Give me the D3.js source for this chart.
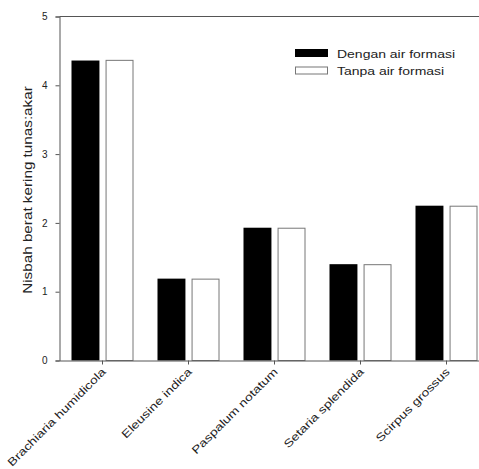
<!DOCTYPE html>
<html>
<head>
<meta charset="utf-8">
<script src="https://cdn.jsdelivr.net/npm/d3@7"></script>
<style>
  html, body { margin: 0; padding: 0; background: #fff; }
  svg { display: block; }
  text { font-family: "Liberation Sans", Arial, sans-serif; fill: #222; }
</style>
</head>
<body>
<svg id="chart" width="479" height="469"></svg>
<script>
// Species on the x axis
const species = [
  "Brachiaria humidicola",
  "Eleusine indica",
  "Paspalum notatum",
  "Setaria splendida",
  "Scirpus grossus"
];
// Shoot:root dry weight ratio per treatment
const withFormationWater = [4.36, 1.19, 1.93, 1.40, 2.25];
const withoutFormationWater = [4.37, 1.19, 1.93, 1.40, 2.25];
const seriesNames = ["Dengan air formasi", "Tanpa air formasi"];
const yTicks = [0, 1, 2, 3, 4, 5];
const yTitle = "Nisbah berat kering tunas:akar";

const svg = d3.select("#chart");
const plotLeft = 59.5, plotTop = 16.5, plotBottom = 360.5, plotRight = 489.5;
const stretch = 1.27; // the labels use a wide letterform

const x = d3.scaleBand().domain(species).range([plotLeft, plotRight])
  .paddingInner(0.279).paddingOuter(0.1395);
const xs = d3.scaleBand().domain(seriesNames).range([0, x.bandwidth()])
  .paddingInner(0.18);
const y = d3.scaleLinear().domain([0, 5]).range([plotBottom, plotTop]);

const rows = species.map((s, i) => ({
  s, vals: [withFormationWater[i], withoutFormationWater[i]]
}));

// bars
const g = svg.append("g");
rows.forEach(r => {
  r.vals.forEach((v, j) => {
    g.append("rect")
      .attr("x", x(r.s) + xs(seriesNames[j]) + (j ? 0.5 : 0))
      .attr("y", y(v) + (j ? 0.5 : 0))
      .attr("width", xs.bandwidth() - (j ? 1 : 0))
      .attr("height", y(0) - y(v) - (j ? 0.5 : 0))
      .attr("fill", j ? "#fff" : "#000")
      .attr("stroke", j ? "#777" : "none")
      .attr("stroke-width", 1);
  });
});

function widen(sel) {
  sel.each(function() {
    const n = this.getComputedTextLength();
    d3.select(this).attr("textLength", n * stretch).attr("lengthAdjust", "spacingAndGlyphs");
  });
}

// frame: top line
svg.append("line")
  .attr("x1", plotLeft).attr("x2", 479).attr("y1", plotTop).attr("y2", plotTop)
  .attr("stroke", "#555");

// y axis
const yAxis = svg.append("g")
  .attr("transform", `translate(${plotLeft},0)`)
  .call(d3.axisLeft(y).tickValues(yTicks).tickSize(4).tickPadding(8).tickFormat(d3.format("d")));
yAxis.select(".domain").attr("stroke", "#555");
yAxis.selectAll(".tick line").attr("stroke", "#555");
yAxis.selectAll("text").style("font-size", "10px").attr("fill", "#222")
  .style("font-family", "'Liberation Sans', Arial, sans-serif");

// x axis
const xAxis = svg.append("g")
  .attr("transform", `translate(0,${plotBottom})`)
  .call(d3.axisBottom(x).tickSize(4).tickSizeOuter(0));
xAxis.select(".domain").attr("stroke", "#555");
xAxis.selectAll(".tick line").attr("stroke", "#555");
xAxis.selectAll("text")
  .style("font-size", "11px").attr("fill", "#222")
  .style("font-family", "'Liberation Sans', Arial, sans-serif")
  .attr("text-anchor", "end")
  .attr("dy", null).attr("y", null)
  .attr("transform", "translate(4,12) rotate(-45)")
  .call(widen);

// y title
svg.append("text")
  .attr("transform", `translate(32,190) rotate(-90)`)
  .attr("text-anchor", "middle")
  .style("font-size", "12px")
  .text(yTitle)
  .call(widen);

// legend
const leg = svg.append("g");
seriesNames.forEach((name, j) => {
  const ly = 49.5 + j * 17.5;
  leg.append("rect")
    .attr("x", 295.5).attr("y", ly).attr("width", 32).attr("height", 7)
    .attr("fill", j ? "#fff" : "#000")
    .attr("stroke", j ? "#777" : "#000");
  leg.append("text")
    .attr("x", 337).attr("y", ly + 8)
    .style("font-size", "11px")
    .text(name)
    .call(widen);
});
</script>
</body>
</html>
